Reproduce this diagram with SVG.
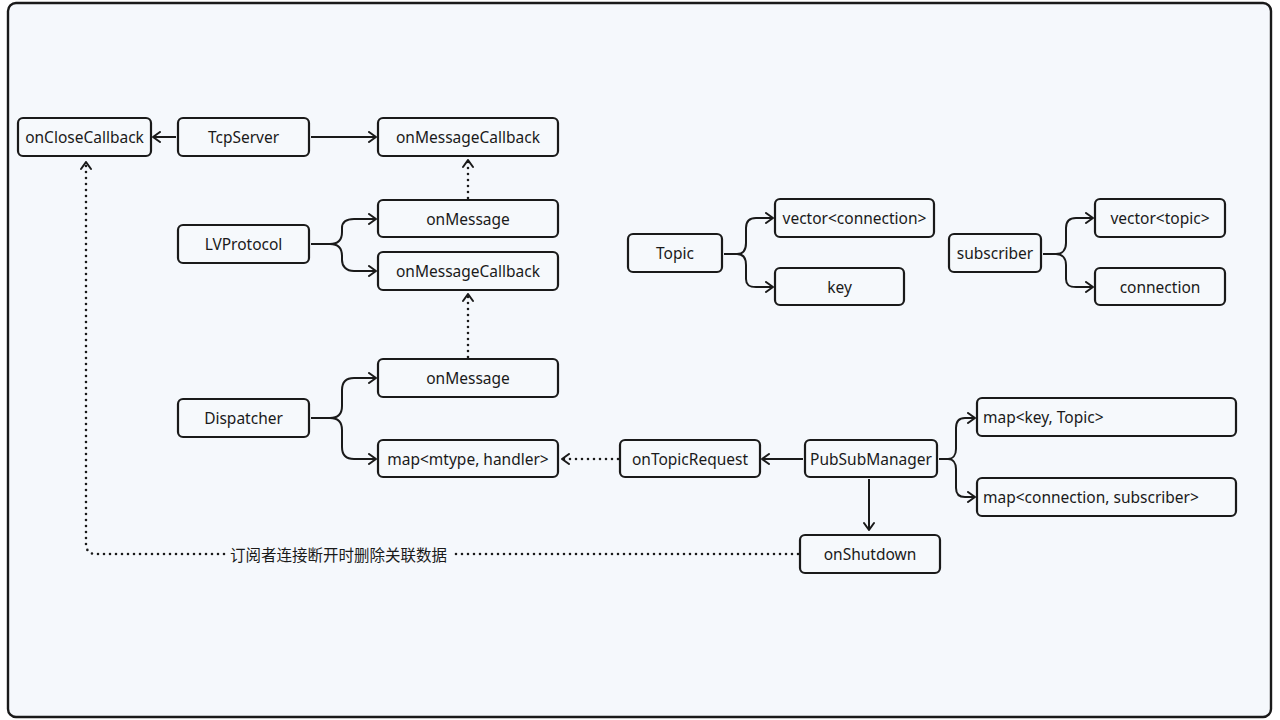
<svg xmlns="http://www.w3.org/2000/svg" width="1280" height="720" viewBox="0 0 1280 720">
<defs>
<marker id="ah" viewBox="0 0 10 12" refX="9" refY="6" markerWidth="10" markerHeight="12" markerUnits="userSpaceOnUse" orient="auto">
<path d="M2,1 L9,6 L2,11" fill="none" stroke="#1a1a1a" stroke-width="2" stroke-linecap="round" stroke-linejoin="round"/>
</marker>
<style>
.n rect{fill:#f6f9fc;stroke:#1a1a1a;stroke-width:2.2}
.n text{font-family:"Noto Sans","Open Sans","Noto Sans CJK SC",sans-serif;font-size:15.5px;fill:#1a1a1a;text-anchor:middle;dominant-baseline:central}
.n text.l{text-anchor:start}
.c path{fill:none;stroke:#1a1a1a;stroke-width:2;marker-end:url(#ah)}
.c path.d{stroke-dasharray:0 6;stroke-linecap:round;stroke-width:2.6}
.lbl{font-family:"Noto Sans CJK SC","Noto Sans",sans-serif;font-size:15.5px;fill:#1a1a1a;dominant-baseline:central}
</style>
</defs>
<rect x="0" y="0" width="1280" height="720" fill="#ffffff"/>
<rect x="8" y="3" width="1263" height="714" rx="8" fill="#f5f8fc" stroke="#1a1a1a" stroke-width="2.4"/>

<g class="c" id="connectors">
<path d="M176,137 H153"/>
<path d="M311,137 H376"/>
<path class="d" d="M468,198 V160"/>
<path d="M311,244 H330 C338,244 342,240 342,232 V228 C342,222 346,219 354,219 H376"/>
<path d="M311,244 H330 C338,244 342,248 342,256 V260 C342,266 346,271 354,271 H376"/>
<path class="d" d="M468,357 V294"/>
<path d="M311,418 H330 C338,418 342,414 342,406 V390 C342,382 346,378 354,378 H376"/>
<path d="M311,418 H330 C338,418 342,422 342,430 V447 C342,455 346,459 354,459 H376"/>
<path class="d" d="M618,459 H562"/>
<path d="M803,459 H762"/>
<path d="M869,479 V530"/>
<path d="M939,459 H948 C953,459 956,455 956,449 V428 C956,421 959,418 965,418 H975"/>
<path d="M939,459 H948 C953,459 956,463 956,469 V488 C956,494 959,497 965,497 H975"/>
<path d="M724,254 H737 C743,254 746,250 746,243 V228 C746,221 749,218 756,218 H773"/>
<path d="M724,254 H737 C743,254 746,258 746,265 V279 C746,285 749,287 756,287 H773"/>
<path d="M1043,254 H1056 C1062,254 1066,250 1066,243 V228 C1066,221 1069,218 1076,218 H1093"/>
<path d="M1043,254 H1056 C1062,254 1066,258 1066,265 V279 C1066,285 1069,287 1076,287 H1093"/>
<path class="d" d="M798,554 H452" style="marker-end:none"/>
<path class="d" d="M224,554 H96 C89,554 86,550 86,544 V162"/>
</g>
<text class="lbl" x="230" y="554">订阅者连接断开时删除关联数据</text>

<g class="n" id="onCloseCallback"><rect x="18" y="118" width="133" height="38" rx="5"/><text x="84.5" y="137">onCloseCallback</text></g>
<g class="n" id="TcpServer"><rect x="178" y="118" width="131" height="38" rx="5"/><text x="243.5" y="137">TcpServer</text></g>
<g class="n" id="onMessageCallback1"><rect x="378" y="118" width="180" height="38" rx="5"/><text x="468" y="137">onMessageCallback</text></g>
<g class="n" id="LVProtocol"><rect x="178" y="225" width="131" height="38" rx="5"/><text x="243.5" y="244">LVProtocol</text></g>
<g class="n" id="onMessage1"><rect x="378" y="200" width="180" height="37" rx="5"/><text x="468" y="219">onMessage</text></g>
<g class="n" id="onMessageCallback2"><rect x="378" y="252" width="180" height="38" rx="5"/><text x="468" y="271">onMessageCallback</text></g>
<g class="n" id="Dispatcher"><rect x="178" y="399" width="131" height="38" rx="5"/><text x="243.5" y="418">Dispatcher</text></g>
<g class="n" id="onMessage2"><rect x="378" y="359" width="180" height="38" rx="5"/><text x="468" y="378">onMessage</text></g>
<g class="n" id="mapMtype"><rect x="378" y="440" width="180" height="37" rx="5"/><text x="468" y="459">map&lt;mtype, handler&gt;</text></g>
<g class="n" id="onTopicRequest"><rect x="620" y="440" width="140" height="37" rx="5"/><text x="690" y="459">onTopicRequest</text></g>
<g class="n" id="PubSubManager"><rect x="805" y="440" width="132" height="37" rx="5"/><text x="871" y="459">PubSubManager</text></g>
<g class="n" id="onShutdown"><rect x="800" y="535" width="140" height="38" rx="5"/><text x="870" y="554">onShutdown</text></g>
<g class="n" id="mapKeyTopic"><rect x="977" y="398" width="259" height="38" rx="5"/><text class="l" x="983" y="417">map&lt;key, Topic&gt;</text></g>
<g class="n" id="mapConnSub"><rect x="977" y="478" width="259" height="38" rx="5"/><text class="l" x="983" y="497">map&lt;connection, subscriber&gt;</text></g>
<g class="n" id="Topic"><rect x="628" y="234" width="94" height="38" rx="5"/><text x="675" y="253">Topic</text></g>
<g class="n" id="vectorConnection"><rect x="775" y="199" width="159" height="38" rx="5"/><text x="854.5" y="218">vector&lt;connection&gt;</text></g>
<g class="n" id="key"><rect x="775" y="268" width="129" height="37" rx="5"/><text x="839.5" y="287">key</text></g>
<g class="n" id="subscriber"><rect x="949" y="234" width="92" height="38" rx="5"/><text x="995" y="253">subscriber</text></g>
<g class="n" id="vectorTopic"><rect x="1095" y="199" width="130" height="38" rx="5"/><text x="1160" y="218">vector&lt;topic&gt;</text></g>
<g class="n" id="connection"><rect x="1095" y="268" width="130" height="37" rx="5"/><text x="1160" y="287">connection</text></g>
</svg>
